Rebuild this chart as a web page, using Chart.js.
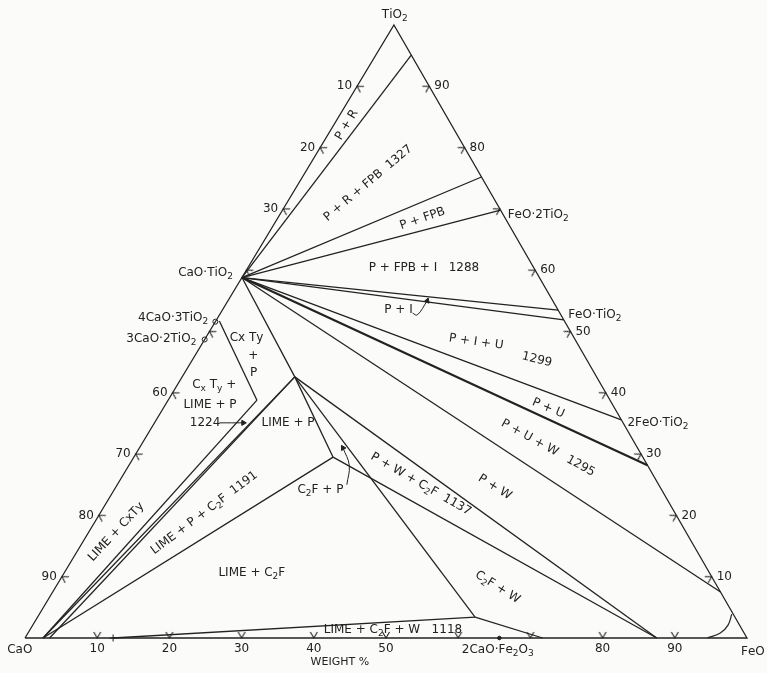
<!DOCTYPE html>
<html>
<head>
<meta charset="utf-8">
<script src="https://cdn.jsdelivr.net/npm/chart.js@4.4.1/dist/chart.umd.min.js"></script>
<style>
  html, body { margin: 0; padding: 0; background: #fbfbf9; }
  #wrap { width: 767px; height: 673px; position: relative; }
</style>
</head>
<body>
<div id="wrap"><canvas id="phase"></canvas></div>
<script>
// CaO - FeO - TiO2 subsolidus relations, weight %
// every composition below is [FeO, TiO2]; CaO is the remainder
const APEX = 0.511;   // where the TiO2 corner sits along the base
const INK = '#222222';
const FONT = 'DejaVu Sans';
const FS = 12;

// scale marks every 10 %, numbers left off where compound names sit
const tickValues = [10, 20, 30, 40, 50, 60, 70, 80, 90];
const leftNumbers = [10, 20, 30, 60, 70, 80, 90];      // CaO
const rightNumbers = [10, 20, 30, 40, 50, 60, 80, 90]; // TiO2
const baseNumbers = [10, 20, 30, 40, 50, 80, 90];      // FeO

const cornerCaO = [0, 0];
const cornerFeO = [100, 0];
const cornerTiO2 = [0, 100];

// perovskite (CaO.TiO2) and the phases it coexists with on the FeO-TiO2 join
const perovskite = [0, 58.8];
const perovskiteTies = [
  [4.9, 95.1], [24.8, 75.2], [30.2, 69.8], [46.5, 53.5], [48.1, 51.9],
  [64.4, 35.6], [71.8, 28.2], [92.5, 7.5]
];

// lime-rich side
const perovskiteLime = [15.6, 42.6];
const cxtyTop = [0.5, 51.7];
const cxtyLimit = [12.3, 38.8];
const limePoint = [2.5, 0];
const limePoint2 = [3.4, 0];
const limeLimit = [12.2, 0];
const c2fPoint = [27.6, 29.5];
const c2fLow = [60.6, 3.4];
const c2fBase = [71.7, 0];
const wustiteBase = [87.5, 0];
const wustiteCurve = [[94.5, 0], [95.9, 0.8], [96.3, 2.1], [95.9, 3.9]];

const tieLines = [
  [perovskite, perovskiteLime],
  [cxtyTop, cxtyLimit],
  [limePoint, cxtyLimit],
  [limePoint, perovskiteLime],
  [limePoint2, perovskiteLime],
  [perovskiteLime, c2fPoint],
  [limePoint, c2fPoint],
  [perovskiteLime, c2fLow],
  [perovskiteLime, wustiteBase],
  [c2fPoint, wustiteBase],
  [limeLimit, c2fLow],
  [c2fLow, c2fBase]
];

// compounds marked on the joins
const calciumTitanates = [[0, 51.6], [0, 48.7]];
const c2fMarks = [[65.7, 0]];

// pointer arrows next to some field labels
const arrow1224 = [[9.0, 35.1], [12.3, 35.1]];
const arrowPI = [[26.6, 53.0], [27.4, 52.7], [27.6, 55.0]];
const arrowC2FP = [[31.8, 25.0], [30.5, 28.2], [28.2, 31.0]];

const annotations = [
  { text: 'TiO_2', at: [-0.7, 101.6] },
  { text: 'CaO', at: [0.3, -2.0] },
  { text: 'FeO', at: [102.0, -2.3] },
  { text: 'WEIGHT %', at: [45.6, -3.9], size: 11 },
  { text: 'CaO·TiO_2', at: [-1.6, 59.5], align: 'right' },
  { text: '4CaO·3TiO_2', at: [-1.3, 52.2], align: 'right' },
  { text: '3CaO·2TiO_2', at: [-1.2, 48.8], align: 'right' },
  { text: 'FeO·2TiO_2', at: [31.6, 69.0], align: 'left' },
  { text: 'FeO·TiO_2', at: [48.3, 52.7], align: 'left' },
  { text: '2FeO·TiO_2', at: [65.5, 35.1], align: 'left' },
  { text: '2CaO·Fe_2O_3', at: [66.5, -2.0] },
  { text: 'P + R', at: [1.8, 83.7], angle: -59 },
  { text: 'P + R + FPB  1327', at: [9.6, 74.2], angle: -40 },
  { text: 'P + FPB', at: [20.1, 68.4], angle: -19 },
  { text: 'P + FPB + I   1288', at: [24.4, 60.4] },
  { text: 'P + I', at: [24.4, 53.5] },
  { text: 'P + I + U', at: [37.8, 48.3], angle: 8 },
  { text: '1299', at: [47.7, 45.4], angle: 14 },
  { text: 'P + U', at: [53.3, 37.5], angle: 23 },
  { text: 'P + U + W   1295', at: [56.6, 31.0], angle: 29 },
  { text: 'P + W', at: [52.5, 24.6], angle: 32 },
  { text: 'P + W + C_2F  1137', at: [42.0, 25.1], angle: 30 },
  { text: 'C_2F + W', at: [61.2, 8.3], angle: 32 },
  { text: 'C_2F + P', at: [28.6, 24.1] },
  { text: 'LIME + C_2F', at: [26.0, 10.6] },
  { text: 'LIME + C_2F + W   1118', at: [50.3, 1.3] },
  { text: 'LIME + P + C_2F  1191', at: [14.4, 20.4], angle: -37 },
  { text: 'LIME + CxTy', at: [3.8, 17.3], angle: -47 },
  { text: 'Cx Ty', at: [5.7, 48.9] },
  { text: '+', at: [8.1, 46.0] },
  { text: 'P', at: [9.6, 43.2] },
  { text: 'C_x T_y +', at: [5.1, 41.3] },
  { text: 'LIME + P', at: [6.2, 38.0] },
  { text: '1224', at: [7.0, 35.1] },
  { text: 'LIME + P', at: [18.5, 35.1] }
];

// composition -> chart coordinates
const toXY = c => ({ x: c[0] + APEX * c[1], y: c[1] });

function line(points, width, extra) {
  return Object.assign({
    data: points.map(toXY),
    showLine: true,
    borderColor: INK,
    borderWidth: width || 1.3,
    pointRadius: 0,
    clip: false
  }, extra || {});
}

function arrow(points, rot) {
  const r = points.map((p, i) => i === points.length - 1 ? 3 : 0);
  return line(points, 1, {
    tension: 0.4,
    pointRadius: r,
    pointStyle: 'triangle',
    pointRotation: rot,
    pointBackgroundColor: INK,
    pointBorderColor: INK
  });
}

// small chevron used for the scale marks on the three sides
function chevron() {
  const c = document.createElement('canvas');
  c.width = 18; c.height = 18;
  const g = c.getContext('2d');
  g.strokeStyle = INK;
  g.lineWidth = 1.1;
  g.beginPath();
  g.moveTo(5.5, 2.9);
  g.lineTo(9, 9);
  g.lineTo(12.5, 2.9);
  g.stroke();
  return c;
}
const chev = chevron();

function tickSet(points, rot) {
  return {
    data: points.map(toXY),
    showLine: false,
    pointStyle: chev,
    pointRadius: 6,
    pointRotation: rot,
    clip: false
  };
}

const datasets = [
  line([cornerCaO, cornerFeO, cornerTiO2, cornerCaO], 1.3),
  tickSet(tickValues.map(v => [0, 100 - v]), 121),
  tickSet(tickValues.map(v => [100 - v, v]), 240),
  tickSet(tickValues.map(v => [v, 0]), 0)
];

perovskiteTies.forEach((end, i) => {
  datasets.push(line([perovskite, end], i === 6 ? 2.2 : 1.3));
});
tieLines.forEach(seg => datasets.push(line(seg)));
datasets.push(line(wustiteCurve, 1.2, { tension: 0.4 }));

datasets.push({
  data: calciumTitanates.map(toXY), showLine: false, clip: false,
  pointRadius: 2.5, pointBorderColor: INK, pointBorderWidth: 1, pointBackgroundColor: 'rgba(0,0,0,0)'
});
datasets.push({
  data: c2fMarks.map(toXY), showLine: false, clip: false,
  pointRadius: 1.8, pointBorderColor: INK, pointBackgroundColor: INK
});
datasets.push({
  data: [limeLimit].map(toXY), showLine: false, clip: false,
  pointStyle: 'cross', pointRadius: 3.5, pointBorderColor: INK, pointBorderWidth: 1
});

datasets.push(arrow(arrow1224, 90));
datasets.push(arrow(arrowPI, 20));
datasets.push(arrow(arrowC2FP, -30));

// text with "_x" subscripts
function drawRich(ctx, text, x, y, align, angle, size) {
  const fs = size || FS;
  const main = fs + 'px "' + FONT + '"';
  const sub = Math.round(fs * 0.75) + 'px "' + FONT + '"';
  const parts = [];
  for (let i = 0; i < text.length; i++) {
    if (text[i] === '_' && i + 1 < text.length) {
      parts.push({ s: text[i + 1], sub: true });
      i++;
    } else {
      parts.push({ s: text[i], sub: false });
    }
  }
  let total = 0;
  parts.forEach(p => {
    ctx.font = p.sub ? sub : main;
    p.w = ctx.measureText(p.s).width;
    total += p.w;
  });
  let cx = align === 'left' ? 0 : align === 'right' ? -total : -total / 2;
  ctx.save();
  ctx.translate(x, y);
  ctx.rotate((angle || 0) * Math.PI / 180);
  ctx.textBaseline = 'middle';
  ctx.textAlign = 'left';
  parts.forEach(p => {
    ctx.font = p.sub ? sub : main;
    ctx.fillText(p.s, cx, p.sub ? fs * 0.32 : 0);
    cx += p.w;
  });
  ctx.restore();
}

const phaseText = {
  id: 'phaseText',
  afterDatasetsDraw(chart) {
    const { ctx, scales } = chart;
    const px = c => scales.x.getPixelForValue(c[0] + APEX * c[1]);
    const py = c => scales.y.getPixelForValue(c[1]);
    ctx.save();
    ctx.fillStyle = INK;
    leftNumbers.forEach(v => {
      const c = [0, 100 - v];
      drawRich(ctx, String(v), px(c) - 5, py(c), 'right', 0);
    });
    rightNumbers.forEach(v => {
      const c = [100 - v, v];
      drawRich(ctx, String(v), px(c) + 5, py(c), 'left', 0);
    });
    baseNumbers.forEach(v => {
      const c = [v, 0];
      drawRich(ctx, String(v), px(c), py(c) + 11, 'center', 0);
    });
    annotations.forEach(a => {
      drawRich(ctx, a.text, px(a.at), py(a.at), a.align || 'center', a.angle || 0, a.size);
    });
    ctx.restore();
  }
};

new Chart(document.getElementById('phase'), {
  type: 'scatter',
  data: { datasets },
  options: {
    responsive: true,
    maintainAspectRatio: false,
    animation: false,
    layout: { padding: { left: 25, right: 20, top: 25, bottom: 35 } },
    scales: {
      x: { type: 'linear', min: 0, max: 100, display: false },
      y: { type: 'linear', min: 0, max: 100, display: false }
    },
    plugins: {
      legend: { display: false },
      tooltip: { enabled: false }
    }
  },
  plugins: [phaseText]
});
</script>
</body>
</html>
